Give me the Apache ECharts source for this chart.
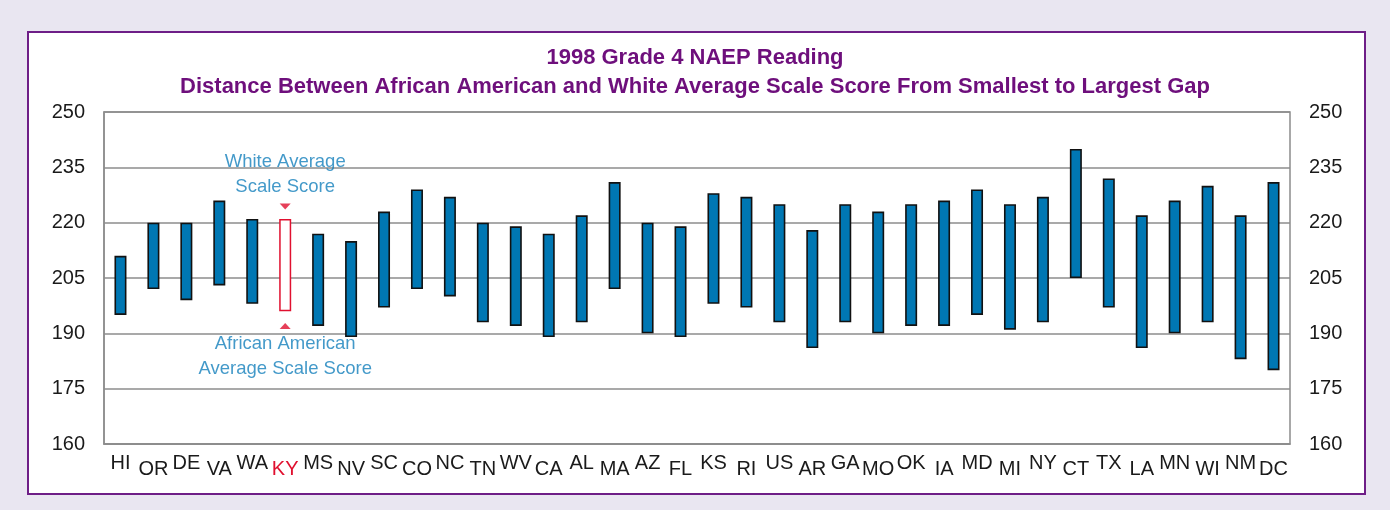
<!DOCTYPE html>
<html>
<head>
<meta charset="utf-8">
<title>1998 Grade 4 NAEP Reading</title>
<script src="https://cdn.jsdelivr.net/npm/echarts@6.0.0/dist/echarts.min.js"></script>
<style>
     html, body { margin: 0; padding: 0; background: #E9E6F1; }
     #main { width: 1390px; height: 510px; }
</style>
</head>
<body>
<div id="main"></div>
<script>
// states, ordered from smallest to largest gap
var states = ['HI', 'OR', 'DE', 'VA', 'WA', 'KY', 'MS', 'NV', 'SC', 'CO', 'NC', 'TN', 'WV', 'CA', 'AL', 'MA', 'AZ', 'FL',
     'KS', 'RI', 'US', 'AR', 'GA', 'MO', 'OK', 'IA', 'MD', 'MI', 'NY', 'CT', 'TX', 'LA', 'MN', 'WI', 'NM', 'DC'];
// African American average scale score (bottom of each bar)
var blackScores = [195, 202, 199, 203, 198, 196, 192, 189, 197, 202, 200, 193, 192, 189, 193, 202, 190, 189,
     198, 197, 193, 186, 193, 190, 192, 192, 195, 191, 193, 205, 197, 186, 190, 193, 183, 180];
// White average scale score (top of each bar)
var whiteScores = [211, 220, 220, 226, 221, 221, 217, 215, 223, 229, 227, 220, 219, 217, 222, 231, 220, 219,
     228, 227, 225, 218, 225, 223, 225, 226, 229, 225, 227, 240, 232, 222, 226, 230, 222, 231];
var yTicks = [160, 175, 190, 205, 220, 235, 250];
var highlight = 'KY';
// where the two little arrows sit on the highlighted bar
var arrowTop = 224.4;
var arrowBottom = 192;

var gaps = whiteScores.map(function (w, i) {
     return w - blackScores[i];
});

var myChart = echarts.init(document.getElementById('main'));

var textFont = 'Liberation Sans';
var option = {
     backgroundColor: '#E9E6F1',
     animation: false,
     graphic: [{
          type: 'rect',
          z: -10,
          shape: { x: 28, y: 32, width: 1337, height: 462 },
          style: { fill: '#fff', stroke: '#6E1E87', lineWidth: 2 }
     }],
     title: {
          text: '1998 Grade 4 NAEP Reading\nDistance Between African American and White Average Scale Score From Smallest to Largest Gap',
          left: 'center',
          top: 38,
          textStyle: {
               color: '#6E0F7C',
               fontFamily: textFont,
               fontWeight: 'bold',
               fontSize: 22,
               lineHeight: 29
          }
     },
     grid: {
          left: 104,
          right: 100,
          top: 112,
          bottom: 66,
          show: true,
          borderColor: '#8c8c8c',
          borderWidth: 1.5
     },
     xAxis: {
          type: 'category',
          data: states,
          axisLine: { lineStyle: { color: '#8c8c8c', width: 1.5 } },
          axisTick: { inside: true, length: 7, lineStyle: { color: '#8c8c8c', width: 1.5 } },
          axisLabel: {
               interval: 0,
               margin: 9,
               formatter: function (val, idx) {
                    var key = idx % 2 ? 'low' : 'high';
                    if (val === highlight) key += 'Red';
                    return '{' + key + '|' + val + '}';
               },
               rich: {
                    high: { fontSize: 20, fontFamily: textFont, color: '#1a1a1a', padding: [0, 0, 0, 0] },
                    low: { fontSize: 20, fontFamily: textFont, color: '#1a1a1a', padding: [6, 0, 0, 0] },
                    highRed: { fontSize: 20, fontFamily: textFont, color: '#E0102F', padding: [0, 0, 0, 0] },
                    lowRed: { fontSize: 20, fontFamily: textFont, color: '#E0102F', padding: [6, 0, 0, 0] }
               }
          }
     },
     yAxis: [{
          type: 'value',
          min: 160,
          max: 250,
          axisLine: { show: true, lineStyle: { color: '#8c8c8c', width: 1.5 } },
          axisTick: { show: false, customValues: yTicks },
          splitLine: { lineStyle: { color: '#8c8c8c', width: 1.5 } },
          axisLabel: { customValues: yTicks, margin: 19, fontSize: 20, fontFamily: textFont, color: '#1a1a1a' }
     }, {
          type: 'value',
          position: 'right',
          min: 160,
          max: 250,
          axisLine: { show: false },
          axisTick: { show: false, customValues: yTicks },
          splitLine: { show: false },
          axisLabel: { customValues: yTicks, margin: 19, fontSize: 20, fontFamily: textFont, color: '#1a1a1a' }
     }],
     series: [{
          name: 'base',
          type: 'bar',
          stack: 'range',
          barWidth: 12,
          itemStyle: { color: 'transparent' },
          silent: true,
          data: blackScores
     }, {
          name: 'gap',
          type: 'bar',
          stack: 'range',
          barWidth: 12,
          itemStyle: { color: '#0077B3', borderColor: '#111', borderWidth: 1.6 },
          data: gaps.map(function (g, i) {
               if (states[i] !== highlight) return g;
               return { value: g, itemStyle: { color: '#fff', borderColor: '#E0102F', borderWidth: 1.5 } };
          })
     }, {
          name: 'arrows',
          type: 'scatter',
          symbol: 'triangle',
          symbolSize: [11, 6],
          itemStyle: { color: '#E0102F' },
          label: {
               show: true,
               color: '#147FBC',
               fontFamily: textFont,
               fontSize: 18.5,
               lineHeight: 25
          },
          data: [{
               value: [highlight, arrowTop],
               symbolRotate: 180,
               label: { position: 'top', distance: 4, formatter: 'White Average\nScale Score' }
          }, {
               value: [highlight, arrowBottom],
               label: { position: 'bottom', distance: 2, formatter: 'African American\nAverage Scale Score' }
          }]
     }]
};

myChart.setOption(option);
</script>
</body>
</html>
